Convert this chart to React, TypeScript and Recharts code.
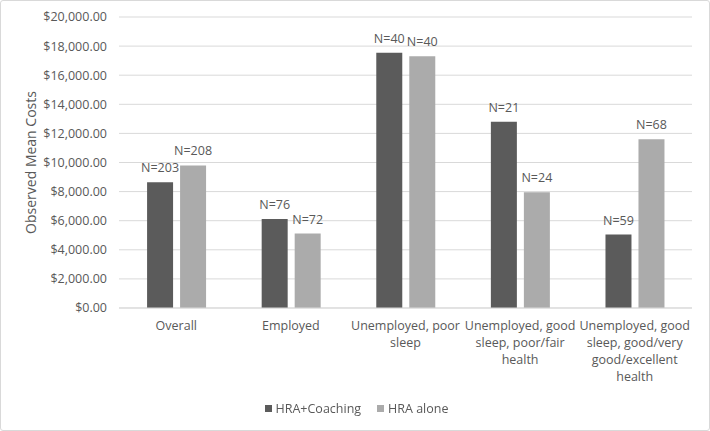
import { Bar, BarChart, CartesianGrid, LabelList, Legend, Text, XAxis, YAxis } from "recharts"

const categories = [
  "Overall",
  "Employed",
  "Unemployed, poor sleep",
  "Unemployed, good sleep, poor/fair health",
  "Unemployed, good sleep, good/very good/excellent health",
]
const coachingCost = [8650, 6120, 17550, 12800, 5050]
const aloneCost = [9800, 5120, 17300, 7950, 11600]
const coachingN = [203, 76, 40, 21, 59]
const aloneN = [208, 72, 40, 24, 68]
const yTicks = [0, 2000, 4000, 6000, 8000, 10000, 12000, 14000, 16000, 18000, 20000]

const FONT = "'Open Sans', sans-serif"
const TEXT = "#595959"
const DARK = "#5b5b5b"
const LIGHT = "#ababab"

const data = categories.map((name, i) => ({
  name,
  coaching: coachingCost[i],
  alone: aloneCost[i],
  coachingN: coachingN[i],
  aloneN: aloneN[i],
}))

function fmtMoney(v: number): string {
  return "$" + v.toLocaleString("en-US", { minimumFractionDigits: 2, maximumFractionDigits: 2 })
}

function CatTick({ x, y, payload }: any) {
  return (
    <Text x={x} y={y} width={124} textAnchor="middle" verticalAnchor="start" lineHeight={17}
      fill={TEXT} fontSize={12.5} fontFamily={FONT}>
      {payload.value}
    </Text>
  )
}

function LegendBox() {
  const item = (color: string, label: string) => (
    <span style={{ display: "inline-flex", alignItems: "center", margin: "0 8px" }}>
      <span style={{ width: 7, height: 7, background: color, marginRight: 4 }} />
      <span>{label}</span>
    </span>
  )
  return (
    <div style={{ height: 20, display: "flex", justifyContent: "center", alignItems: "center",
      fontFamily: FONT, fontSize: 12.5, color: TEXT, paddingLeft: 20 }}>
      {item(DARK, "HRA+Coaching")}
      {item(LIGHT, "HRA alone")}
    </div>
  )
}

export default function App() {
  return (
    <div style={{ position: "fixed", left: 0, top: 0, width: 710, height: 431, boxSizing: "border-box",
      border: "1px solid #d9d9d9", borderRadius: 3, background: "#fff" }}>
      <BarChart width={708} height={429} data={data} barCategoryGap="24.5%" barGap={7}
        margin={{ top: 16, right: 17, bottom: 12, left: 0 }}>
        <CartesianGrid vertical={false} stroke="#d9d9d9" />
        <XAxis dataKey="name" tickLine={false} axisLine={{ stroke: "#d9d9d9" }} interval={0}
          height={90} tickMargin={7} tick={<CatTick />} />
        <YAxis domain={[0, 20000]} ticks={yTicks} width={118} tickLine={false} axisLine={false}
          tickMargin={6} tickFormatter={fmtMoney}
          tick={{ fill: TEXT, fontSize: 12.5, fontFamily: FONT }}
          label={{ value: "Observed  Mean  Costs", angle: -90, position: "insideLeft", offset: 30,
            style: { textAnchor: "middle", fill: TEXT, fontSize: 14, fontFamily: FONT, whiteSpace: "pre" } }} />
        <Legend verticalAlign="bottom" content={<LegendBox />} />
        <Bar dataKey="coaching" name="HRA+Coaching" fill={DARK} isAnimationActive={false}>
          <LabelList dataKey="coachingN" position="top" offset={10} formatter={(v: number) => `N=${v}`}
            fill={TEXT} fontSize={12.5} fontFamily={FONT} />
        </Bar>
        <Bar dataKey="alone" name="HRA alone" fill={LIGHT} isAnimationActive={false}>
          <LabelList dataKey="aloneN" position="top" offset={10} formatter={(v: number) => `N=${v}`}
            fill={TEXT} fontSize={12.5} fontFamily={FONT} />
        </Bar>
      </BarChart>
    </div>
  )
}
